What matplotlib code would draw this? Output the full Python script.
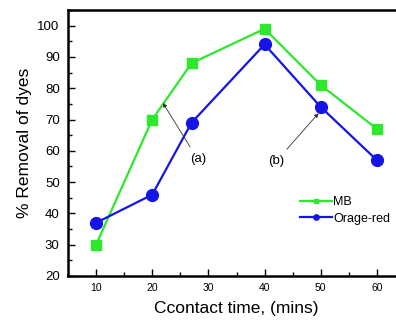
import matplotlib
matplotlib.use("Agg")
import matplotlib.pyplot as plt
from matplotlib.ticker import MultipleLocator

plt.rcParams['font.family'] = ['Liberation Sans', 'DejaVu Sans']

# contact time (mins)
time_mb = [10, 20, 27, 40, 50, 60]
time_or = [10, 20, 27, 40, 50, 60]
# % removal
removal_mb = [30, 70, 88, 99, 81, 67]
removal_or = [37, 46, 69, 94, 74, 57]

fig = plt.figure(figsize=(3.96, 3.2), dpi=100)
ax = fig.add_axes([68/396, 44/320, 337/396, 266/320])

ax.plot(time_mb, removal_mb, color='#2ee82e', lw=1.6, marker='s', ms=7.5,
        label='MB')
ax.plot(time_or, removal_or, color='#1414e6', lw=1.6, marker='o', ms=8.5,
        label='Orage-red')

ax.set_xlim(5, 65)
ax.set_ylim(20, 105)
ax.xaxis.set_major_locator(MultipleLocator(10))
ax.xaxis.set_minor_locator(MultipleLocator(5))
ax.yaxis.set_major_locator(MultipleLocator(10))
ax.yaxis.set_minor_locator(MultipleLocator(5))
ax.tick_params(which='both', direction='in', width=1.0)
ax.tick_params(which='major', length=5)
ax.tick_params(which='minor', length=3)
ax.tick_params(axis='y', labelsize=9.5, pad=6)
ax.tick_params(axis='x', labelsize=7.5, pad=5)
for s in ax.spines.values():
    s.set_linewidth(1.8)

ax.set_xlabel('Ccontact time, (mins)', fontsize=12.5, labelpad=6)
ax.set_ylabel('% Removal of dyes', fontsize=12.5, labelpad=4)

arrow = dict(arrowstyle='-|>', color='#333333', lw=0.6, mutation_scale=6,
             shrinkA=3, shrinkB=0)
ax.annotate('(a)', xy=(21.9, 75.3), xytext=(28.1, 57.3), fontsize=9.5,
            ha='center', va='center', arrowprops=arrow)
ax.annotate('(b)', xy=(49.6, 72.0), xytext=(42.1, 56.7), fontsize=9.5,
            ha='center', va='center', arrowprops=arrow)

ax.legend(loc='upper left', bbox_to_anchor=(294/396, 1 - 190/320),
          bbox_transform=fig.transFigure, frameon=False, fontsize=9,
          handlelength=2.5, handletextpad=0.15, markerscale=0.45,
          labelspacing=0.35, borderpad=0)

fig.savefig('out.png', dpi=100)
